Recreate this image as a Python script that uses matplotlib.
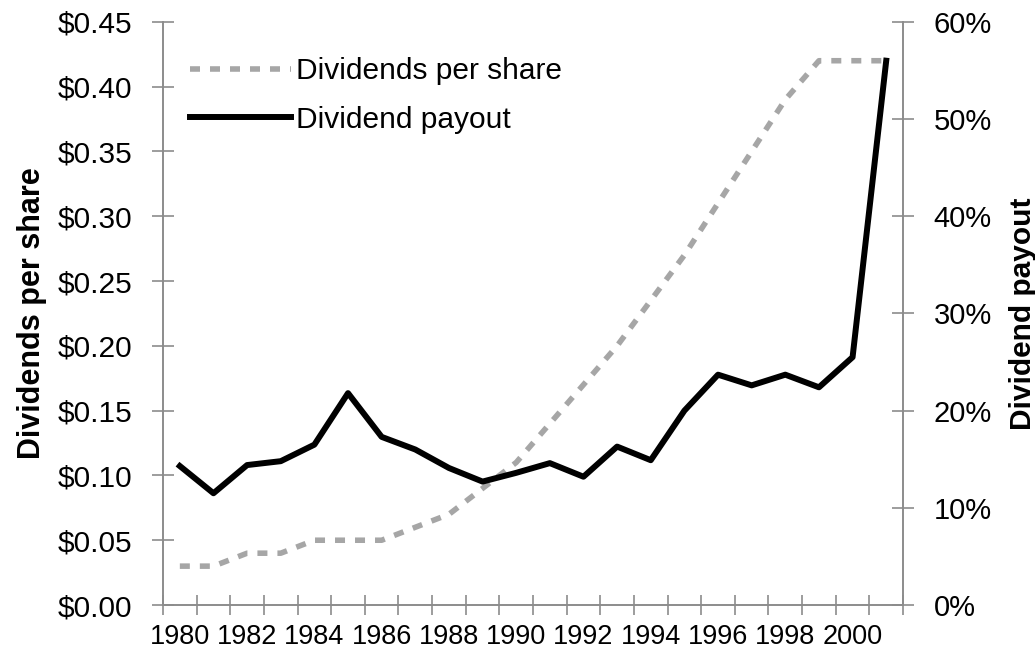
import matplotlib
matplotlib.use("Agg")
import matplotlib.pyplot as plt
from matplotlib.ticker import FuncFormatter

# data
years = list(range(1980, 2002))
dividends_per_share = [0.03, 0.03, 0.04, 0.04, 0.05, 0.05, 0.05, 0.06, 0.07, 0.09,
                       0.11, 0.14, 0.17, 0.20, 0.235, 0.27, 0.31, 0.35, 0.39, 0.42,
                       0.42, 0.42]
dividend_payout = [0.143, 0.115, 0.144, 0.148, 0.165, 0.218, 0.173, 0.160, 0.141, 0.127,
                   0.136, 0.146, 0.132, 0.163, 0.149, 0.200, 0.237, 0.226, 0.237, 0.224,
                   0.255, 0.560]
year_labels = [str(y) for y in years[::2]]

plt.rcParams['font.family'] = ['Liberation Sans', 'DejaVu Sans']
AXIS_GREY = "#8c8c8c"

fig = plt.figure(figsize=(10.35, 6.56), dpi=100)
ax = fig.add_axes([0.1575, 0.0777, 0.715, 0.889])
ax2 = ax.twinx()

l1, = ax.plot(years, dividends_per_share, color="#a6a6a6", lw=4,
              linestyle=(0, (1.8, 1.8)), label="Dividends per share", zorder=2)
l2, = ax2.plot(years, dividend_payout, color="black", lw=4.3,
               label="Dividend payout", zorder=3)

ax.set_xlim(1979.5, 2001.5)
ax.set_ylim(0, 0.45)
ax2.set_ylim(0, 0.6)
ax.set_yticks([i * 0.05 for i in range(10)])
ax2.set_yticks([i * 0.1 for i in range(7)])
ax.yaxis.set_major_formatter(FuncFormatter(lambda v, p: "${:.2f}".format(v)))
ax2.yaxis.set_major_formatter(FuncFormatter(lambda v, p: "{:.0f}%".format(v * 100)))

# category axis: tick marks between years, labels every second year
ax.set_xticks(years[::2])
ax.set_xticklabels(year_labels, family=['Liberation Sans Narrow', 'Liberation Sans'])
ax.set_xticks([y - 0.5 for y in years] + [2001.5], minor=True)
ax.tick_params(axis="x", which="major", length=0, pad=14, labelsize=19.5)
ax.tick_params(axis="x", which="minor", direction="inout", length=14,
               color=AXIS_GREY, width=1.2)
ax.tick_params(axis="y", direction="inout", length=16, color=AXIS_GREY,
               width=1.2, labelsize=21.5, pad=14)
ax2.tick_params(axis="y", direction="inout", length=16, color=AXIS_GREY,
                width=1.2, labelsize=21, pad=14)

for a in (ax, ax2):
    a.spines["top"].set_visible(False)
    for s in ("left", "right", "bottom"):
        a.spines[s].set_color(AXIS_GREY)
        a.spines[s].set_linewidth(1.2)

ax.set_ylabel("Dividends per share", fontsize=22, fontweight="bold", labelpad=8)
ax2.set_ylabel("Dividend payout", fontsize=21.5, fontweight="bold", labelpad=12)

ax2.legend(handles=[l1, l2], loc="upper left", bbox_to_anchor=(0.0, 0.985),
           frameon=False, fontsize=21.5, handlelength=3.4, handletextpad=0.15,
           labelspacing=0.68)

fig.savefig("out.png", dpi=100)
